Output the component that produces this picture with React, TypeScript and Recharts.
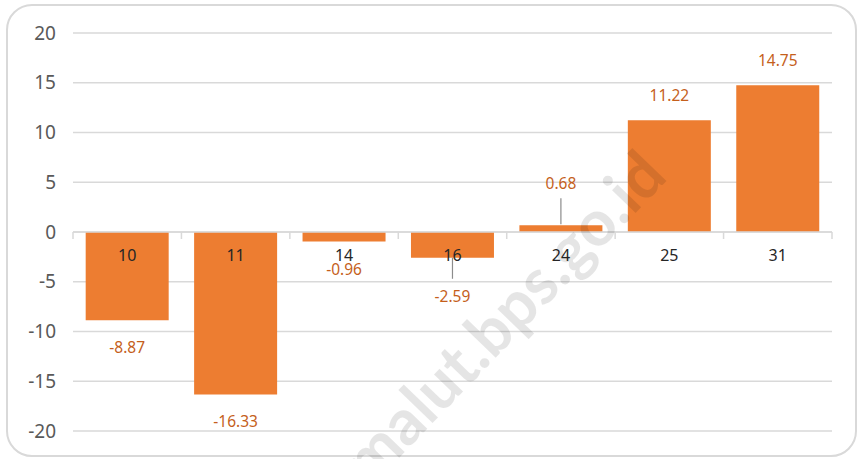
import React from "react";
import {
  BarChart,
  Bar,
  XAxis,
  YAxis,
  CartesianGrid,
  ReferenceLine,
  LabelList,
} from "recharts";

const categories = ["10", "11", "14", "16", "24", "25", "31"];
const values = [-8.87, -16.33, -0.96, -2.59, 0.68, 11.22, 14.75];
const yTicks = [-20, -15, -10, -5, 0, 5, 10, 15, 20];

const data = categories.map((name, i) => ({ name, value: values[i] }));

const FONT = "'Noto Sans', 'Open Sans', sans-serif";
const BAR = "#ed7d31";
const LABEL = "#c55f1c";
const GRID = "#d9d9d9";

// labels that Excel pushed away from the bar get a leader line
const leaderExtra: Record<number, number> = { 3: 11, 4: 17 };

// eslint-disable-next-line @typescript-eslint/no-explicit-any
const ValueLabel = (props: any) => {
  const { x, y, width, height, value, index } = props;
  const cx = x + width / 2;
  const zeroY = y + height;
  const neg = value < 0;
  const endY = y;
  const extra = leaderExtra[index] || 0;
  const ly = neg ? endY + 27 + extra : endY - 25 - extra;
  return (
    <g>
      {extra > 0 && (
        <line
          x1={cx}
          x2={cx}
          y1={neg ? endY : endY - 1}
          y2={neg ? ly - 17 : ly + 15}
          stroke="#8c8c8c"
          strokeWidth={1.2}
        />
      )}
      <text
        x={cx}
        y={ly}
        textAnchor="middle"
        dominantBaseline="central"
        fill={LABEL}
        fontSize={15.5}
        fontFamily={FONT}
      >
        {value.toFixed(2)}
      </text>
      <text
        x={cx}
        y={zeroY + 23}
        textAnchor="middle"
        dominantBaseline="central"
        fill="#262626"
        fontSize={16}
        fontFamily={FONT}
      >
        {categories[index]}
      </text>
    </g>
  );
};

// eslint-disable-next-line @typescript-eslint/no-explicit-any
const ZeroAxis = (props: any) => {
  const { x1, x2, y1 } = props;
  const n = categories.length;
  const step = (x2 - x1) / n;
  return (
    <g>
      <line x1={x1} x2={x2} y1={y1} y2={y1} stroke={GRID} strokeWidth={1.5} />
      {Array.from({ length: n + 1 }, (_, i) => (
        <line
          key={i}
          x1={x1 + i * step}
          x2={x1 + i * step}
          y1={y1}
          y2={y1 + 7}
          stroke={GRID}
          strokeWidth={1.5}
        />
      ))}
    </g>
  );
};

export default function App() {
  return (
    <div
      style={{
        position: "absolute",
        left: 0,
        top: 0,
        width: 860,
        height: 459,
        background: "#fff",
        overflow: "hidden",
      }}
    >
      <div
        style={{
          position: "absolute",
          left: 6,
          top: 4,
          width: 851,
          height: 453,
          boxSizing: "border-box",
          border: `2px solid ${GRID}`,
          borderRadius: 26,
        }}
      />
      <div style={{ position: "absolute", left: 0, top: 0 }}>
        <BarChart
          width={860}
          height={459}
          data={data}
          margin={{ top: 33, right: 28, bottom: 28, left: 0 }}
          barCategoryGap="11.7%"
        >
          <CartesianGrid vertical={false} stroke={GRID} strokeWidth={1.5} />
          <XAxis dataKey="name" hide />
          <YAxis
            width={73}
            domain={[-20, 20]}
            ticks={yTicks}
            interval={0}
            axisLine={false}
            tickLine={false}
            tickMargin={11}
            tick={{ fill: "#595959", fontSize: 19, fontFamily: FONT }}
          />
          <ReferenceLine y={0} shape={ZeroAxis} />
          <Bar dataKey="value" fill={BAR} isAnimationActive={false}>
            <LabelList dataKey="value" content={ValueLabel} />
          </Bar>
        </BarChart>
      </div>
      <svg
        width={860}
        height={459}
        style={{ position: "absolute", left: 0, top: 0, pointerEvents: "none" }}
      >
        <text
          x={502}
          y={316}
          textAnchor="middle"
          dominantBaseline="central"
          transform="rotate(-46 502 316)"
          fontFamily="Lato, 'Noto Sans', sans-serif"
          fontWeight={700}
          fontSize={64}
          fill="#000"
          fillOpacity={0.1}
        >
          malut.bps.go.id
        </text>
      </svg>
    </div>
  );
}
